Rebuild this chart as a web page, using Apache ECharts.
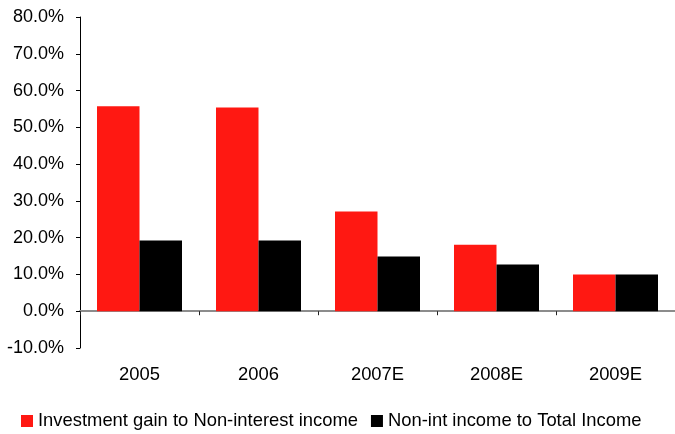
<!DOCTYPE html>
<html>
<head>
<meta charset="utf-8">
<script src="https://cdn.jsdelivr.net/npm/echarts@6/dist/echarts.min.js"></script>
<style>
  html, body { margin: 0; padding: 0; background: #fff; }
  #chart { width: 675px; height: 434px; }
</style>
</head>
<body>
<div id="chart"></div>
<script>
// Years on the category axis
const years = ['2005', '2006', '2007E', '2008E', '2009E'];

// Ratios, in percent
const investmentGainShare = [55.7, 55.4, 27.1, 18.1, 10.0];
const nonIntIncomeShare = [19.2, 19.2, 14.9, 12.7, 10.0];

// Value axis range and step, in percent
const yMin = -10;
const yMax = 80;
const yStep = 10;

const seriesNames = ['Investment gain to Non-interest income', 'Non-int income to Total Income'];

const FONT = '"Liberation Sans", Arial, sans-serif';

const chart = echarts.init(document.getElementById('chart'), null, { renderer: 'canvas' });

chart.setOption({
  animation: false,
  backgroundColor: '#ffffff',
  textStyle: { fontFamily: FONT },
  grid: { left: 80, top: 17, width: 597, bottom: 86, containLabel: false },
  legend: {
    left: 16,
    top: 407,
    itemWidth: 12,
    itemHeight: 12,
    itemGap: 13,
    icon: 'rect',
    textStyle: { fontFamily: FONT, fontSize: 18.4, color: '#000' },
    data: seriesNames
  },
  xAxis: {
    type: 'category',
    data: years,
    axisLine: { onZero: true, lineStyle: { color: '#8c8c8c', width: 2 } },
    axisTick: { show: true, length: 4, lineStyle: { color: '#222', width: 1 } },
    axisLabel: { margin: 18, fontFamily: FONT, fontSize: 18.4, color: '#000' },
    splitLine: { show: false }
  },
  yAxis: {
    type: 'value',
    min: yMin,
    max: yMax,
    interval: yStep,
    axisLine: { show: true, lineStyle: { color: '#000', width: 1 } },
    axisTick: { show: true, length: 4, lineStyle: { color: '#000', width: 1 } },
    axisLabel: {
      margin: 16,
      fontFamily: FONT,
      fontSize: 18,
      color: '#000',
      formatter: v => v.toFixed(1) + '%'
    },
    splitLine: { show: false }
  },
  series: [
    {
      name: seriesNames[0],
      type: 'bar',
      data: investmentGainShare,
      barWidth: 42.5,
      barGap: '0%',
      itemStyle: { color: '#ff1812' }
    },
    {
      name: seriesNames[1],
      type: 'bar',
      data: nonIntIncomeShare,
      barWidth: 42.5,
      barGap: '0%',
      itemStyle: { color: '#000000' }
    }
  ]
});
</script>
</body>
</html>
